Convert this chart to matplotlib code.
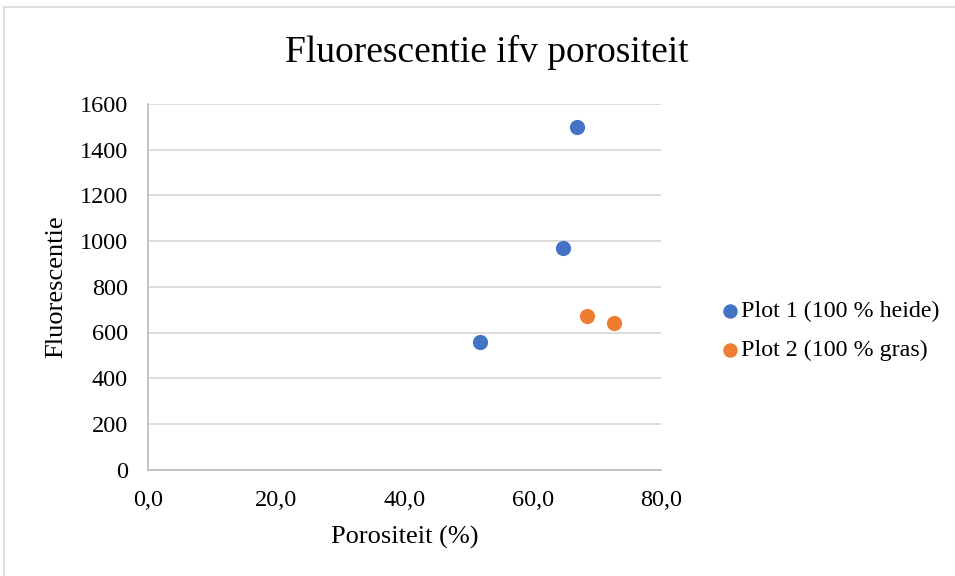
import matplotlib.pyplot as plt
from matplotlib.patches import Rectangle
from matplotlib.ticker import FuncFormatter

plt.rcParams['font.family'] = ['Liberation Serif', 'DejaVu Serif']

# porositeit (%) en fluorescentie per plot
heide_x = [66.85, 64.77, 51.82]
heide_y = [1500, 968, 557]
gras_x = [68.41, 72.67]
gras_y = [672, 640]

x_ticks = [0, 20, 40, 60, 80]
y_ticks = [0, 200, 400, 600, 800, 1000, 1200, 1400, 1600]

fig = plt.figure(figsize=(9.55, 5.76), dpi=100)
fig.patches.append(Rectangle((4 / 955, -0.01), 1.0, 1 - 7 / 576 + 0.01,
                             transform=fig.transFigure, fill=False,
                             edgecolor='#d9d9d9', linewidth=1.2))

ax = fig.add_axes([148 / 955, 1 - 469.6 / 576, 513 / 955, 365.6 / 576])
ax.scatter(heide_x, heide_y, s=120, color='#4472C4', label='Plot 1 (100 % heide)',
           zorder=3, linewidths=0)
ax.scatter(gras_x, gras_y, s=120, color='#ED7D31', label='Plot 2 (100 % gras)',
           zorder=3, linewidths=0)

ax.set_xlim(0, 80)
ax.set_ylim(0, 1600)
ax.set_xticks(x_ticks)
ax.set_yticks(y_ticks)
ax.xaxis.set_major_formatter(FuncFormatter(lambda v, p: f'{v:.1f}'.replace('.', ',')))
ax.tick_params(length=0, labelsize=17.5)
ax.tick_params(axis='y', pad=14.5)
ax.tick_params(axis='x', pad=15)
ax.grid(axis='y', color='#d9d9d9', linewidth=1.3)
ax.set_axisbelow(True)
for side in ['top', 'right']:
    ax.spines[side].set_visible(False)
for side in ['left', 'bottom']:
    ax.spines[side].set_color('#bfbfbf')
    ax.spines[side].set_linewidth(1.3)

ax.set_xlabel('Porositeit (%)', fontsize=19, va='center')
ax.set_ylabel('Fluorescentie', fontsize=19, va='center')
ax.xaxis.set_label_coords(0.5, (469.6 - 537) / 365.6)
ax.yaxis.set_label_coords((56 - 148) / 513, 0.5)
fig.text(487 / 955, 1 - 52 / 576, 'Fluorescentie ifv porositeit',
         fontsize=27, ha='center', va='center')

ax.legend(loc='center left', bbox_to_anchor=(1.046, 0.38), frameon=False,
          fontsize=17.3, handletextpad=-0.55, labelspacing=0.7, markerscale=0.95)

fig.savefig('out.png', dpi=100)
